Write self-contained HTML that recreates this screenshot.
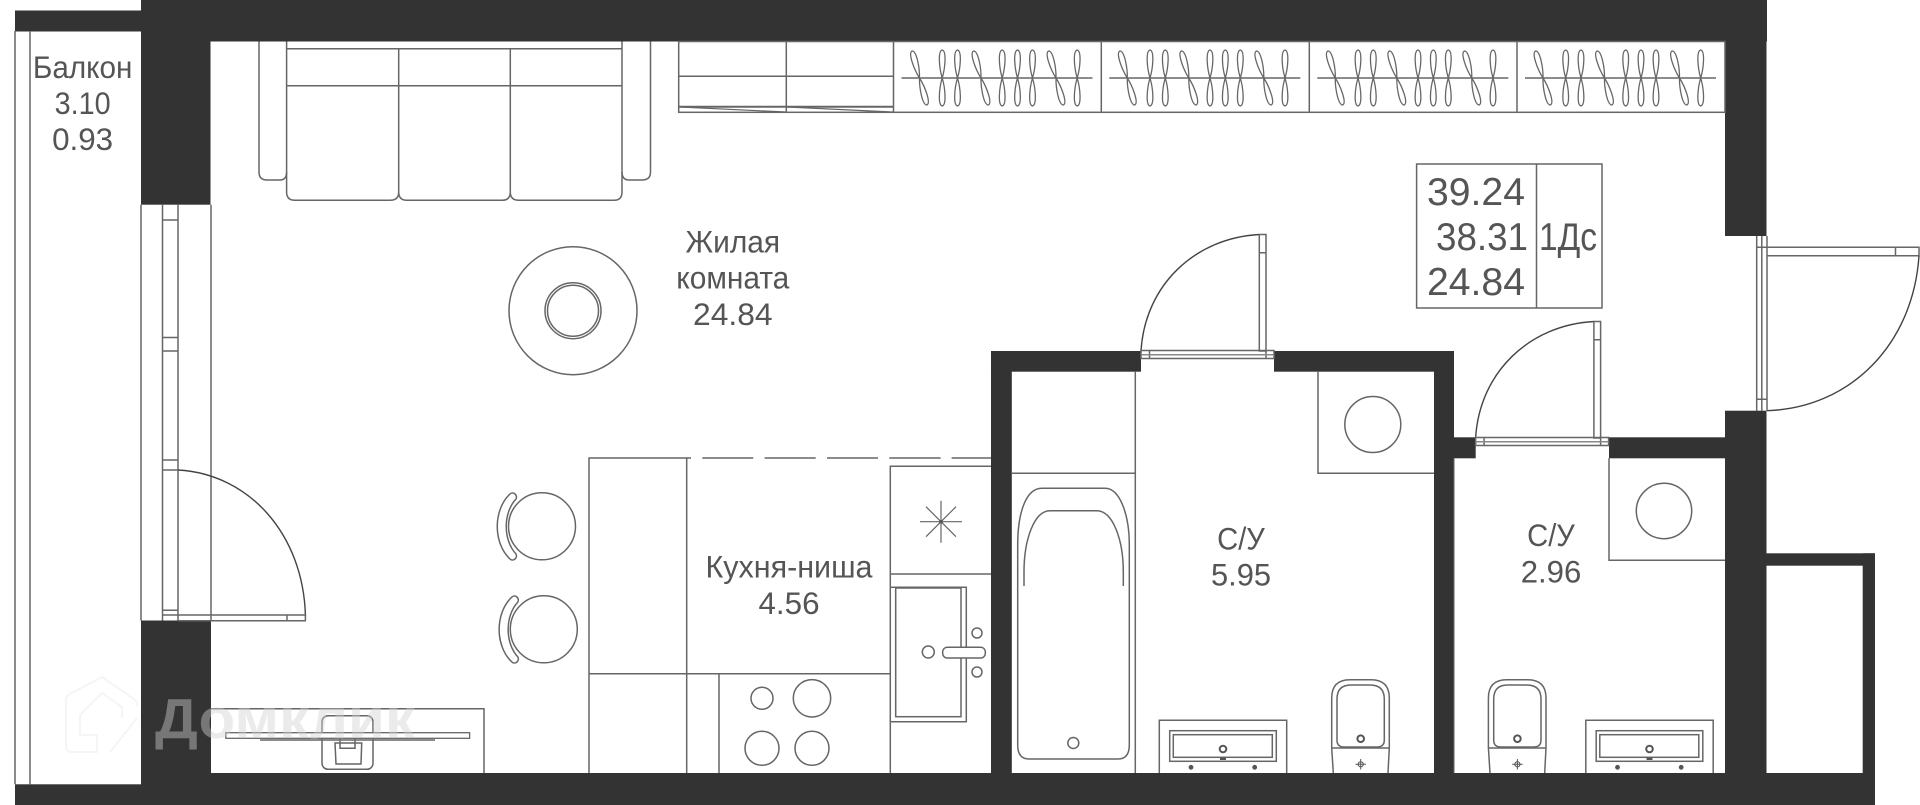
<!DOCTYPE html>
<html lang="ru">
<head>
<meta charset="utf-8">
<title>План квартиры</title>
<style>
html,body{margin:0;padding:0;background:#fff;width:1920px;height:805px;overflow:hidden}
svg{display:block}
.w{fill:#333}
.l{fill:none;stroke:#666;stroke-width:1.5}
.d{fill:none;stroke:#444;stroke-width:1.4}
.h{fill:#fff;stroke:#666;stroke-width:1.3}
text{font-family:"Liberation Sans","Noto Sans CJK SC",sans-serif;font-size:31.5px;fill:#555;text-anchor:middle}
</style>
</head>
<body>
<svg width="1920" height="805" viewBox="0 0 1920 805" xmlns="http://www.w3.org/2000/svg">
<defs>
  <path id="hv" class="l" d="M0,0C-3,-10 -4.5,-27 0,-28C4.5,-27 3,-10 0,0C-3,10 -4.5,27 0,28C4.5,27 3,10 0,0Z" style="stroke-width:1.3"/>
  <g id="comp">
    <line class="l" x1="8" y1="78" x2="199" y2="78"/>
    <use href="#hv" transform="translate(26,78) rotate(-15.5)"/>
    <use href="#hv" transform="translate(48.7,78)"/>
    <use href="#hv" transform="translate(64,78)"/>
    <use href="#hv" transform="translate(87.5,78) rotate(-15.5)"/>
    <use href="#hv" transform="translate(108.7,78)"/>
    <use href="#hv" transform="translate(124,78)"/>
    <use href="#hv" transform="translate(139,78)"/>
    <use href="#hv" transform="translate(162.5,78) rotate(-15.5)"/>
    <use href="#hv" transform="translate(183.7,78)"/>
  </g>
  <g id="idoor">
    <path class="d" d="M1259.3,234.5C1195,238 1145,285 1141,351"/>
    <path class="l" d="M1259.3,234.5H1266V351H1259.3V234.5M1259.3,252.7H1266"/>
    <path class="l" d="M1141,350.5H1274V358.5H1141ZM1141,354.7H1274M1149.5,350.5V358.5M1266,350.5V358.5"/>
    <path d="M1141,354.7H1274" stroke="#888" stroke-width="1.5"/>
  </g>
  <g id="sink">
    <path class="l" d="M1159.3,773V720.3H1286.7V773"/>
    <rect class="l" x="1169.7" y="730.7" width="106.6" height="30.6"/>
    <rect class="l" x="1173.3" y="734.7" width="99" height="22.6"/>
    <circle cx="1223" cy="749" r="3.3" fill="none" stroke="#555" stroke-width="2"/>
    <rect x="1220" y="757.5" width="6" height="2.5" fill="#555"/>
    <circle cx="1191" cy="767.3" r="2.4" fill="#555"/>
    <circle cx="1254.7" cy="767.3" r="2.4" fill="#555"/>
  </g>
  <g id="toilet">
    <path class="l" d="M1331.7,748V698Q1331.7,679.7 1350,679.7H1371Q1389.3,679.7 1389.3,698V748L1388,773M1331.7,748L1333.3,773M1331.7,748H1389.3"/>
    <path class="l" d="M1337,740V699Q1337,685 1351,685H1370Q1384.3,685 1384.3,699V740Q1384.3,747 1377,747H1344Q1337,747 1337,740Z"/>
    <circle cx="1360.7" cy="738.7" r="3.3" fill="none" stroke="#555" stroke-width="2"/>
    <circle cx="1360.7" cy="764.3" r="2.6" fill="none" stroke="#555" stroke-width="1"/>
    <path d="M1355.5,764.3H1366M1360.7,759V769.5" stroke="#555" stroke-width="1" fill="none"/>
  </g>
  <path id="back" class="l" d="M510,494C493,510 493,543 510,559C513,562 518,558 516,554C503,540 503,513 516,499C518,495 513,491 510,494Z"/>
</defs>

<!-- Walls -->
<rect class="w" x="15" y="10.5" width="126" height="21"/>
<rect class="w" x="141" y="0" width="1626" height="41.5"/>
<rect class="w" x="141" y="0" width="69.5" height="204.7"/>
<rect class="w" x="141" y="620.5" width="70" height="153"/>
<rect class="w" x="15" y="784.3" width="126" height="20.7"/>
<rect class="w" x="141" y="773" width="1734" height="32"/>
<rect class="w" x="1725" y="0" width="41.5" height="236"/>
<rect class="w" x="1725" y="410.7" width="41.5" height="362.3"/>
<rect class="w" x="1725" y="553.3" width="150" height="12.4"/>
<rect class="w" x="1862.7" y="553.3" width="12.3" height="251.7"/>
<rect class="w" x="991" y="351" width="20.8" height="422"/>
<rect class="w" x="991" y="351" width="150" height="20.7"/>
<rect class="w" x="1274" y="351" width="179.7" height="20.7"/>
<rect class="w" x="1434" y="351" width="20" height="422"/>
<rect class="w" x="1434" y="437.3" width="41.7" height="21"/>
<rect class="w" x="1609" y="437.3" width="157" height="21"/>

<!-- Balcony / window -->
<path class="l" d="M15,31V784.3M30,31V784.3M141,204.7V620.5M162.5,204.7V620.5M178,204.7V620.5M211,204.7V620.5"/>
<path class="l" d="M162.5,220H178M162.5,337.5H178M162.5,351H178M162.5,460H178M162.5,470H178M162.5,610.3H178M162.5,615H178"/>
<path class="d" d="M178,470C250,474 303,535 305.4,615"/>
<path class="l" d="M178,615H305.4V620.7H178M287,615V620.7"/>

<!-- Sofa -->
<path class="l" d="M259,41.5V172Q259,180 267,180H280Q286.6,180 286.6,172M650.5,41.5V172Q650.5,180 642,180H629Q622,180 622,172M259,41.5V172"/>
<path class="l" d="M286.6,41.5V192Q286.6,200.3 295,200.3H390Q398.7,200.3 398.7,192Q398.7,200.3 407,200.3H502Q510.3,200.3 510.3,192Q510.3,200.3 519,200.3H614Q622,200.3 622,192V41.5"/>
<path class="l" d="M286.6,48.7H622M286.6,85.7H622M398.7,48.7V192M510.3,48.7V192"/>

<!-- Rug -->
<circle class="l" cx="573" cy="310.7" r="64"/>
<circle class="l" cx="573" cy="310.7" r="28"/>
<circle class="l" cx="573" cy="310.7" r="25.5"/>

<!-- Wardrobe -->
<rect class="l" x="678.7" y="41.5" width="1046.3" height="70.8"/>
<path class="l" d="M786.3,41.5V112.3M893.5,41.5V112.3M1101.3,41.5V112.3M1309.3,41.5V112.3M1517,41.5V112.3M678.7,76.3H893.5"/>
<path d="M678.7,106.7H893.5" stroke="#666" stroke-width="2" fill="none"/>
<path d="M680,107L786,112M787,107L893,112" stroke="#666" stroke-width="1.2" fill="none"/>
<use href="#comp" x="893.5"/>
<use href="#comp" x="1101.3"/>
<use href="#comp" x="1309.3"/>
<use href="#comp" x="1517"/>

<!-- Interior doors -->
<use href="#idoor"/>
<use href="#idoor" transform="translate(334.6,87)"/>

<!-- Entrance door -->
<path class="l" d="M1756.7,236V410.7M1761.8,236V410.7M1767,236V410.7M1756.7,247.3H1767M1756.7,399.3H1767M1767,247.3H1919V255.7H1767M1895.5,247.3V255.7"/>
<path class="d" d="M1919,255.7C1913,345 1850,408 1767,410.7"/>

<!-- Info box -->
<path class="l" d="M1416.6,164H1602V308H1416.6ZM1536.5,164V308"/>
<text x="1476" y="205" style="font-size:39px" textLength="98" lengthAdjust="spacingAndGlyphs">39.24</text>
<text x="1482" y="250" style="font-size:39px" textLength="92" lengthAdjust="spacingAndGlyphs">38.31</text>
<text x="1476" y="295" style="font-size:39px" textLength="98" lengthAdjust="spacingAndGlyphs">24.84</text>
<text x="1568" y="250" style="font-size:39px" textLength="58" lengthAdjust="spacingAndGlyphs">1Дс</text>

<!-- Kitchen -->
<path class="l" d="M589,773V458H686.7V773M589,673.7H890.3M719,673.7V773M890.3,773V466.3H991M890.3,574H991"/>
<path class="l" d="M686.7,458H691M702.3,458H753.3M764.6,458H815.7M827,458H878M889.3,458H940.6M951.6,458H991"/>
<path class="l" d="M941,500.7V542.7M920,521.7H962M926,506.7L956,536.7M956,506.7L926,536.7" style="stroke-width:1.2"/>
<circle cx="941" cy="521.7" r="1.8" fill="#555"/>
<path class="l" d="M890.3,587.3H966.3V721.7H890.3"/>
<rect class="l" x="895.7" y="588" width="65.3" height="128.7"/>
<circle class="l" cx="928.3" cy="652" r="6"/>
<rect class="h" x="942.7" y="647.3" width="42.6" height="10.7" rx="4.5" style="stroke-width:1.5"/>
<circle class="l" cx="977" cy="633" r="5"/>
<circle class="l" cx="977" cy="672" r="5"/>
<circle class="l" cx="762" cy="698.3" r="11"/>
<circle class="l" cx="812" cy="698.3" r="18.7"/>
<circle class="l" cx="762" cy="748.3" r="17"/>
<circle class="l" cx="812" cy="748.3" r="17"/>

<!-- Chairs -->
<circle class="l" cx="542" cy="526.3" r="33.5"/>
<use href="#back"/>
<circle class="l" cx="543.8" cy="629.3" r="33.5"/>
<use href="#back" transform="translate(1.9,103)"/>

<!-- TV -->
<path class="l" d="M211,708.7H484V773"/>
<rect class="l" x="322" y="715.7" width="51" height="53.6" rx="6"/>
<rect class="h" x="225.8" y="732.7" width="243.8" height="5.6"/>
<path class="l" d="M260,740H435"/>
<path class="l" d="M335,743H361.7L361,764H336ZM340,738.3V748.3H355V738.3"/>

<!-- Bathroom 1 -->
<path class="l" d="M1135.3,371.7V773M1011.8,473.3H1135.3M1318,371.7V473.3H1434"/>
<circle class="l" cx="1372.8" cy="424.5" r="28"/>
<path class="l" d="M1017.7,545C1017.7,515 1025,488.3 1042,488.3H1105C1120,488.3 1129.3,515 1129.3,545V745Q1129.3,759 1118,759H1029Q1017.7,759 1017.7,745Z"/>
<path class="l" d="M1024,586V572C1024,540 1034,510.7 1050,510.7H1096.7C1113,510.7 1123.3,540 1123.3,572V586"/>
<circle class="l" cx="1073.3" cy="743" r="5.5"/>
<use href="#sink"/>
<use href="#toilet"/>

<!-- Bathroom 2 -->
<path class="l" d="M1609,458.3V560.3H1725"/>
<circle class="l" cx="1664" cy="511" r="27.7"/>
<use href="#sink" transform="translate(426.5,0)"/>
<use href="#toilet" transform="translate(156.7,0)"/>

<!-- Wall edge hairlines -->
<path class="l" d="M1454,458.3V773M1725,41.5V112.3" style="stroke-width:1"/>

<!-- Labels -->
<text x="82.6" y="78" textLength="99.5" lengthAdjust="spacingAndGlyphs">Балкон</text>
<text x="82.6" y="114" textLength="56" lengthAdjust="spacingAndGlyphs">3.10</text>
<text x="82.6" y="150" textLength="61" lengthAdjust="spacingAndGlyphs">0.93</text>
<text x="732.8" y="252.7" textLength="94.6" lengthAdjust="spacingAndGlyphs">Жилая</text>
<text x="732.8" y="288.7" textLength="113" lengthAdjust="spacingAndGlyphs">комната</text>
<text x="732.8" y="325" textLength="79.5" lengthAdjust="spacingAndGlyphs">24.84</text>
<text x="789" y="577.7" textLength="167" lengthAdjust="spacingAndGlyphs">Кухня-ниша</text>
<text x="789" y="614" textLength="61" lengthAdjust="spacingAndGlyphs">4.56</text>
<text x="1241" y="549.3" textLength="47.7" lengthAdjust="spacingAndGlyphs">С/У</text>
<text x="1241" y="585.7" textLength="60" lengthAdjust="spacingAndGlyphs">5.95</text>
<text x="1551" y="546" textLength="47.7" lengthAdjust="spacingAndGlyphs">С/У</text>
<text x="1551" y="582.3" textLength="60.6" lengthAdjust="spacingAndGlyphs">2.96</text>

<!-- Watermark -->
<path d="M66,700Q66,696 70,694L102,677L134,699Q138,702 137,706M137,718L110,752M66,700V746Q66,752 72,752H97V735H80V715L102,693L122,707V718" fill="none" stroke="#f5f5f5" stroke-width="2"/>
<text x="155" y="738" textLength="260" lengthAdjust="spacingAndGlyphs" style="font-size:57px;font-weight:bold;text-anchor:start;fill:rgb(209,209,209);fill-opacity:.43">Домклик</text>
</svg>
</body>
</html>
